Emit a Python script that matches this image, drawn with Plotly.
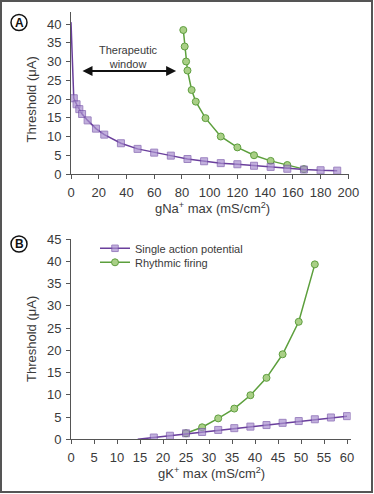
import plotly.graph_objects as go

# ---------------- Panel A data (gNa+ max) ----------------
a_single_x = [0, 2, 4, 6, 8, 12, 18, 24, 36, 48, 60, 72, 84, 96, 108, 120, 132, 144, 156, 168, 180, 192]
a_single_y = [40.5, 20.2, 18.6, 17.3, 16.0, 14.3, 12.1, 10.5, 8.2, 6.7, 5.7, 4.9, 4.0, 3.4, 2.9, 2.6, 2.2, 1.9, 1.4, 1.2, 1.0, 0.9]
a_rhythm_x = [81, 82, 83, 84, 87, 90, 97, 108, 120, 132, 144, 156, 168]
a_rhythm_y = [38.4, 34.0, 30.0, 27.6, 22.4, 19.3, 14.9, 10.0, 7.1, 5.0, 3.5, 2.4, 1.3]

# ---------------- Panel B data (gK+ max) ----------------
b_single_x = [14.5, 18, 21.5, 25, 28.5, 32, 35.5, 39, 42.5, 46, 49.5, 53, 56.5, 60]
b_single_y = [0.0, 0.4, 0.8, 1.35, 1.65, 2.1, 2.5, 2.85, 3.2, 3.7, 4.1, 4.5, 4.9, 5.2]
b_rhythm_x = [25, 28.5, 32, 35.5, 39, 42.5, 46, 49.5, 53]
b_rhythm_y = [1.35, 2.7, 4.7, 6.9, 9.9, 13.8, 19.1, 26.4, 39.3]

a_xticks = list(range(0, 201, 20))
a_yticks = list(range(0, 41, 5))
b_xticks = list(range(0, 61, 5))
b_yticks = list(range(0, 46, 5))

series_names = ["Single action potential", "Rhythmic firing"]

PURPLE_LINE = "#6a3f9c"
PURPLE_FILL = "#a990cf"
PURPLE_EDGE = "#7551a8"
GREEN_LINE = "#5c9f3c"
GREEN_FILL = "#a9cf86"
GREEN_EDGE = "#5f9e3f"
TXT = "#3a3a3a"
AX = "#555555"
FONT = "Liberation Sans, Arial, sans-serif"

W, H = 374, 494


def px_x(p):
    return p / W


def px_y(p):
    return 1 - p / H


def sizes(xs, first_hidden, s):
    return [0 if (first_hidden and i == 0) else s for i in range(len(xs))]


fig = go.Figure()

# Panel A: green first, purple on top
fig.add_trace(go.Scatter(
    x=a_rhythm_x, y=a_rhythm_y, mode="lines+markers", xaxis="x", yaxis="y",
    line=dict(color=GREEN_LINE, width=1.5),
    marker=dict(symbol="circle", size=7, color=GREEN_FILL, line=dict(color=GREEN_EDGE, width=1)),
    showlegend=False, name=series_names[1]))
fig.add_trace(go.Scatter(
    x=a_single_x, y=a_single_y, mode="lines+markers", xaxis="x", yaxis="y",
    line=dict(color=PURPLE_LINE, width=1.5),
    marker=dict(symbol="square", size=sizes(a_single_x, True, 7), color=PURPLE_FILL,
                line=dict(color=PURPLE_EDGE, width=1)),
    showlegend=False, name=series_names[0]))

# Panel B
fig.add_trace(go.Scatter(
    x=b_rhythm_x, y=b_rhythm_y, mode="lines+markers", xaxis="x2", yaxis="y2",
    line=dict(color=GREEN_LINE, width=1.5),
    marker=dict(symbol="circle", size=7, color=GREEN_FILL, line=dict(color=GREEN_EDGE, width=1)),
    showlegend=True, name=series_names[1], legend="legend2"))
fig.add_trace(go.Scatter(
    x=b_single_x, y=b_single_y, mode="lines+markers", xaxis="x2", yaxis="y2",
    line=dict(color=PURPLE_LINE, width=1.5),
    marker=dict(symbol="square", size=sizes(b_single_x, True, 7), color=PURPLE_FILL,
                line=dict(color=PURPLE_EDGE, width=1)),
    showlegend=True, name=series_names[0], legend="legend"))

axis_common = dict(
    showline=True, linecolor=AX, linewidth=1, ticks="outside", ticklen=4,
    tickcolor=AX, tickwidth=1, showgrid=False, zeroline=False, automargin=False,
    tickfont=dict(family=FONT, size=13, color=TXT),
)

legend_common = dict(
    xanchor="left", yanchor="middle", bgcolor="rgba(0,0,0,0)",
    font=dict(family=FONT, size=11, color=TXT), itemwidth=30,
    borderwidth=0,
)

fig.update_layout(
    template="none",
    width=W, height=H,
    margin=dict(l=0, r=0, t=0, b=0, pad=0, autoexpand=False),
    paper_bgcolor="white", plot_bgcolor="white",
    font=dict(family=FONT, color=TXT, size=12),
    xaxis=dict(domain=[px_x(71), px_x(349)], range=[0, 200.5], anchor="y",
               tickmode="array", tickvals=a_xticks, ticklabelstandoff=2, **axis_common),
    yaxis=dict(domain=[px_y(174), px_y(12)], range=[0, 43.2], anchor="x",
               tickmode="array", tickvals=a_yticks, ticklabelstandoff=2, **axis_common),
    xaxis2=dict(domain=[px_x(71), px_x(350.7)], range=[0, 60.8], anchor="y2",
                tickmode="array", tickvals=b_xticks, ticklabelstandoff=2, **axis_common),
    yaxis2=dict(domain=[px_y(439.3), px_y(239)], range=[0, 45], anchor="x2",
                tickmode="array", tickvals=b_yticks, ticklabelstandoff=2, **axis_common),
    legend=dict(x=px_x(95), y=px_y(248.3), **legend_common),
    legend2=dict(x=px_x(95), y=px_y(262.3), **legend_common),
    showlegend=True,
)

annotations = [
    # Axis titles
    dict(text="Threshold (μA)", x=px_x(31), y=px_y(99.5), xref="paper", yref="paper",
         xanchor="center", yanchor="middle",
         showarrow=False, textangle=-90, font=dict(size=13, color=TXT)),
    dict(text="gNa<sup>+</sup> max (mS/cm<sup>2</sup>)", x=px_x(213), y=px_y(208),
         xref="paper", yref="paper", xanchor="center", yanchor="middle",
         showarrow=False, font=dict(size=13, color=TXT)),
    dict(text="Threshold (μA)", x=px_x(31), y=px_y(339), xref="paper", yref="paper",
         xanchor="center", yanchor="middle",
         showarrow=False, textangle=-90, font=dict(size=13, color=TXT)),
    dict(text="gK<sup>+</sup> max (mS/cm<sup>2</sup>)", x=px_x(211), y=px_y(473),
         xref="paper", yref="paper", xanchor="center", yanchor="middle",
         showarrow=False, font=dict(size=13, color=TXT)),
    # Panel letters
    dict(text="<b>A</b>", x=px_x(19), y=px_y(22.5), xref="paper", yref="paper",
         xanchor="center", yanchor="middle",
         showarrow=False, font=dict(size=12, color="#111")),
    dict(text="<b>B</b>", x=px_x(19), y=px_y(244), xref="paper", yref="paper",
         xanchor="center", yanchor="middle",
         showarrow=False, font=dict(size=12, color="#111")),
    # Therapeutic window
    dict(text="Therapeutic<br>window", x=41.5, y=31.3, xref="x", yref="y",
         xanchor="center", yanchor="middle",
         showarrow=False, font=dict(size=11, color=TXT)),
    dict(x=75.8, y=27.5, ax=7.2, ay=27.5, xref="x", yref="y", axref="x", ayref="y",
         text="", showarrow=True, arrowhead=2, arrowside="end+start",
         arrowsize=1, arrowwidth=2, arrowcolor="#111"),
]
fig.update_layout(annotations=annotations)

shapes = [
    dict(type="circle", xref="paper", yref="paper",
         x0=px_x(11), x1=px_x(27), y0=px_y(30.5), y1=px_y(14.5),
         line=dict(color="#111", width=1.5), fillcolor="rgba(0,0,0,0)", layer="below"),
    dict(type="circle", xref="paper", yref="paper",
         x0=px_x(11), x1=px_x(27), y0=px_y(252), y1=px_y(236),
         line=dict(color="#111", width=1.5), fillcolor="rgba(0,0,0,0)", layer="below"),
    dict(type="rect", xref="paper", yref="paper",
         x0=px_x(1), x1=px_x(372), y0=px_y(492), y1=px_y(1),
         line=dict(color="#555", width=2), fillcolor="rgba(0,0,0,0)"),
]
fig.update_layout(shapes=shapes)

fig.write_html(
    "out.html",
    config={"displayModeBar": False},
    post_script="document.body.style.margin='0';document.body.style.padding='0';"
                "document.documentElement.style.overflow='hidden';",
)
